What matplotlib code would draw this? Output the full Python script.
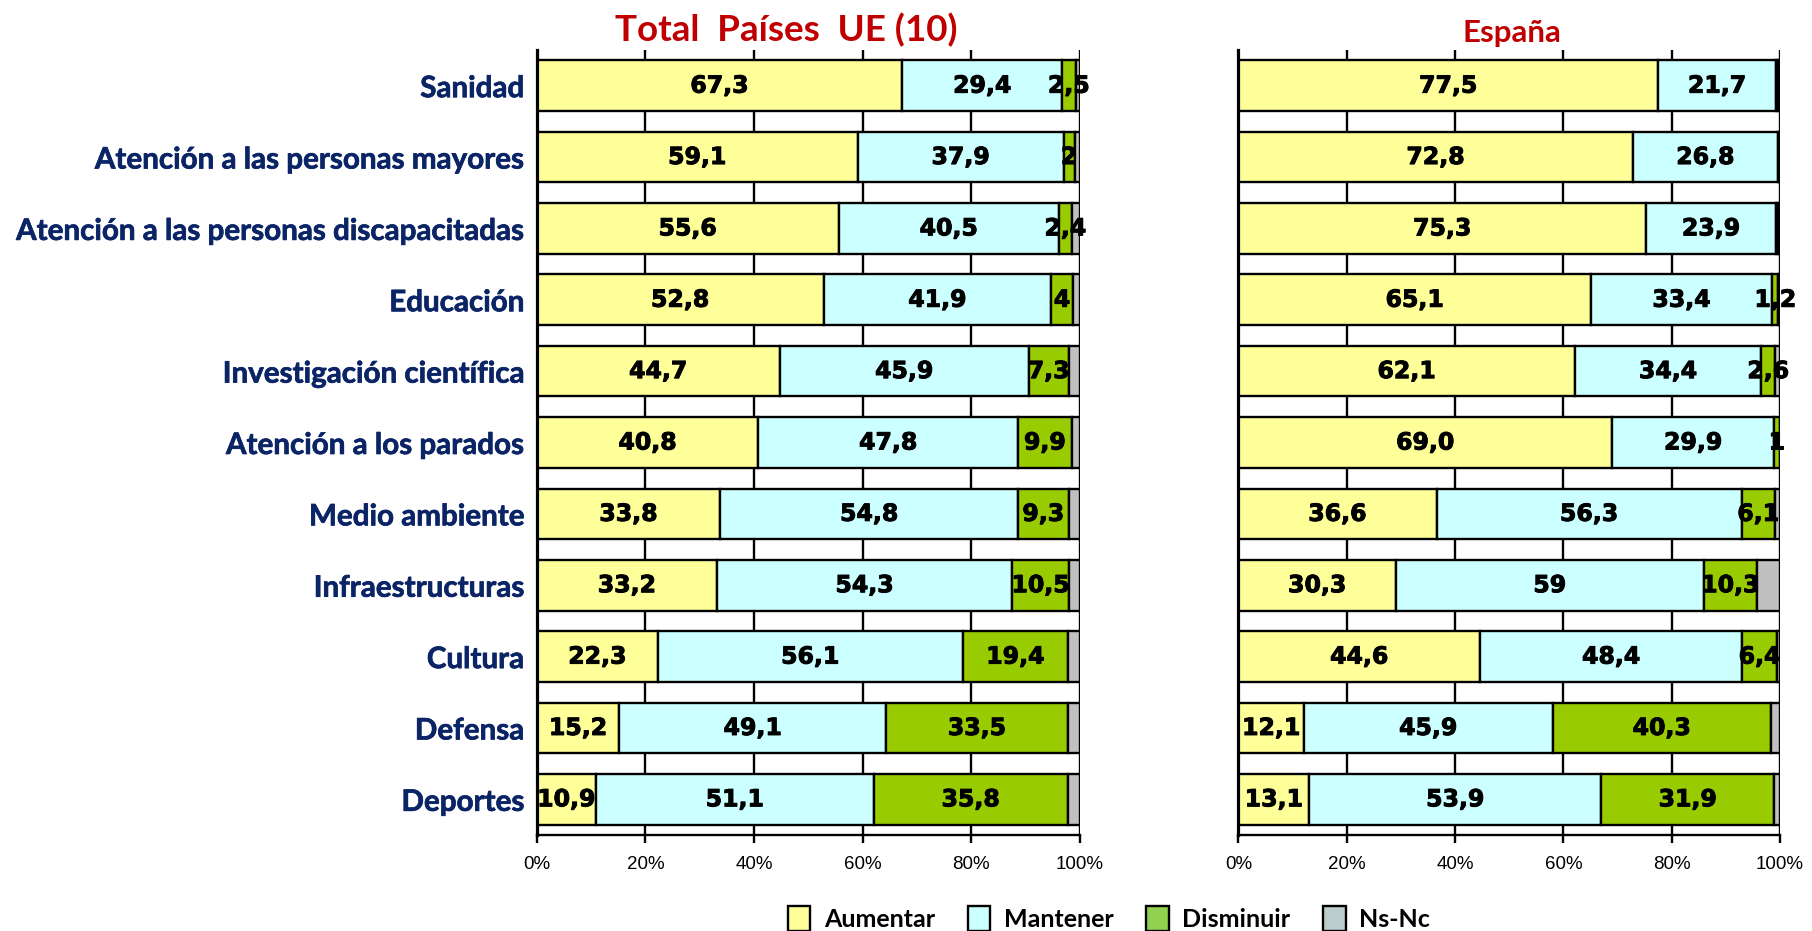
import numpy as np
import matplotlib
matplotlib.use("Agg")
import matplotlib.pyplot as plt
import matplotlib.patheffects as pe
from matplotlib.patches import Patch
from matplotlib.ticker import FuncFormatter

plt.rcParams['font.family'] = ['Lato', 'DejaVu Sans']

categorias = [
    "Sanidad",
    "Atención a las personas mayores",
    "Atención a las personas discapacitadas",
    "Educación",
    "Investigación científica",
    "Atención a los parados",
    "Medio ambiente",
    "Infraestructuras",
    "Cultura",
    "Defensa",
    "Deportes",
]
respuestas = ["Aumentar", "Mantener", "Disminuir", "Ns-Nc"]

# Total países UE (10)
ue_aumentar = [67.3, 59.1, 55.6, 52.8, 44.7, 40.8, 33.8, 33.2, 22.3, 15.2, 10.9]
ue_mantener = [29.4, 37.9, 40.5, 41.9, 45.9, 47.8, 54.8, 54.3, 56.1, 49.1, 51.1]
ue_disminuir = [2.5, 2, 2.4, 4, 7.3, 9.9, 9.3, 10.5, 19.4, 33.5, 35.8]
ue_nsnc = [0.8, 1.0, 1.5, 1.3, 2.1, 1.5, 2.1, 2.0, 2.2, 2.2, 2.2]

# España
es_aumentar = [77.5, 72.8, 75.3, 65.1, 62.1, 69.0, 36.6, 30.3, 44.6, 12.1, 13.1]
es_mantener = [21.7, 26.8, 23.9, 33.4, 34.4, 29.9, 56.3, 59, 48.4, 45.9, 53.9]
es_disminuir = [0.5, 0.2, 0.5, 1.2, 2.6, 1, 6.1, 10.3, 6.4, 40.3, 31.9]
es_nsnc = [0.3, 0.2, 0.3, 0.3, 0.9, 0.1, 1.0, 4.4, 0.6, 1.7, 1.1]

colores = ["#FFFF99", "#CCFFFF", "#99CC00", "#C0C0C0"]
colores_leyenda = ["#FFFF99", "#CCFFFF", "#92D050", "#BCCCCC"]
NAVY = "#0A2466"
ROJO = "#C00000"

# trazo fino para engrosar las cifras
grueso = [pe.withStroke(linewidth=0.7, foreground="black")]


def etiqueta(v):
    # enteros sin decimales, el resto con coma decimal
    if isinstance(v, int):
        return str(v)
    return f"{v:.1f}".replace(".", ",")


def panel(ax, series, titulo, tam_titulo, x_titulo, con_categorias):
    y = np.arange(len(categorias))
    datos = np.array(series, dtype=float)
    totales = datos.sum(axis=0)
    izq = np.zeros(len(categorias))
    for i, (vals, color) in enumerate(zip(series, colores)):
        pct = np.array(vals, dtype=float) / totales * 100
        ax.barh(y, pct, left=izq, height=0.71, color=color,
                edgecolor="black", linewidth=1.7, zorder=2)
        if i < 3:
            for j, v in enumerate(vals):
                if v >= 1:
                    ax.text(izq[j] + pct[j] / 2, y[j], etiqueta(v),
                            ha="center", va="center", fontsize=17,
                            fontweight="bold", family="DejaVu Sans",
                            color="black", zorder=3, path_effects=grueso)
        izq += pct

    ax.set_xlim(0, 100)
    ax.set_ylim(len(categorias) - 0.5, -0.5)
    ax.set_xticks(np.arange(0, 101, 20))
    ax.xaxis.set_major_formatter(FuncFormatter(lambda x, _: f"{x:.0f}%"))
    ax.xaxis.grid(True, color="black", linewidth=1.7, zorder=0)
    ax.set_axisbelow(True)
    ax.tick_params(axis="x", length=6, width=1.7, pad=9, labelsize=13.5)
    for lbl in ax.get_xticklabels():
        lbl.set_family("Liberation Sans")
    ax.tick_params(axis="y", length=0)
    ax.set_yticks(y)
    if con_categorias:
        ax.set_yticklabels(categorias, fontsize=21.3, fontweight="bold",
                           color=NAVY, path_effects=[
                               pe.withStroke(linewidth=0.5, foreground=NAVY)])
        ax.tick_params(axis="y", pad=9)
    else:
        ax.set_yticklabels([])
    ax.spines["top"].set_visible(False)
    ax.spines["right"].set_visible(False)
    ax.spines["left"].set_linewidth(2.3)
    ax.spines["bottom"].set_linewidth(1.7)
    ax.set_title(titulo, color=ROJO, fontsize=tam_titulo, fontweight="bold",
                 x=x_titulo, pad=6)


fig = plt.figure(figsize=(18.12, 9.31), dpi=100)
ax1 = fig.add_axes([0.2962, 0.1031, 0.2998, 0.8432])
ax2 = fig.add_axes([0.6834, 0.1031, 0.2990, 0.8432])

panel(ax1, [ue_aumentar, ue_mantener, ue_disminuir, ue_nsnc],
      "Total  Países  UE (10)", 26.5, 0.46, True)
panel(ax2, [es_aumentar, es_mantener, es_disminuir, es_nsnc],
      "España", 22.5, 0.505, False)

handles = [Patch(facecolor=c, edgecolor="black", linewidth=1.7)
           for c in colores_leyenda]
fig.legend(handles, respuestas, loc="center", bbox_to_anchor=(0.612, 0.013),
           ncol=4, frameon=False, prop={"family": "Lato", "weight": "bold",
                                        "size": 18},
           handlelength=0.9, handleheight=1.15, handletextpad=0.55,
           columnspacing=1.3)

fig.savefig("out.png", dpi=100)
